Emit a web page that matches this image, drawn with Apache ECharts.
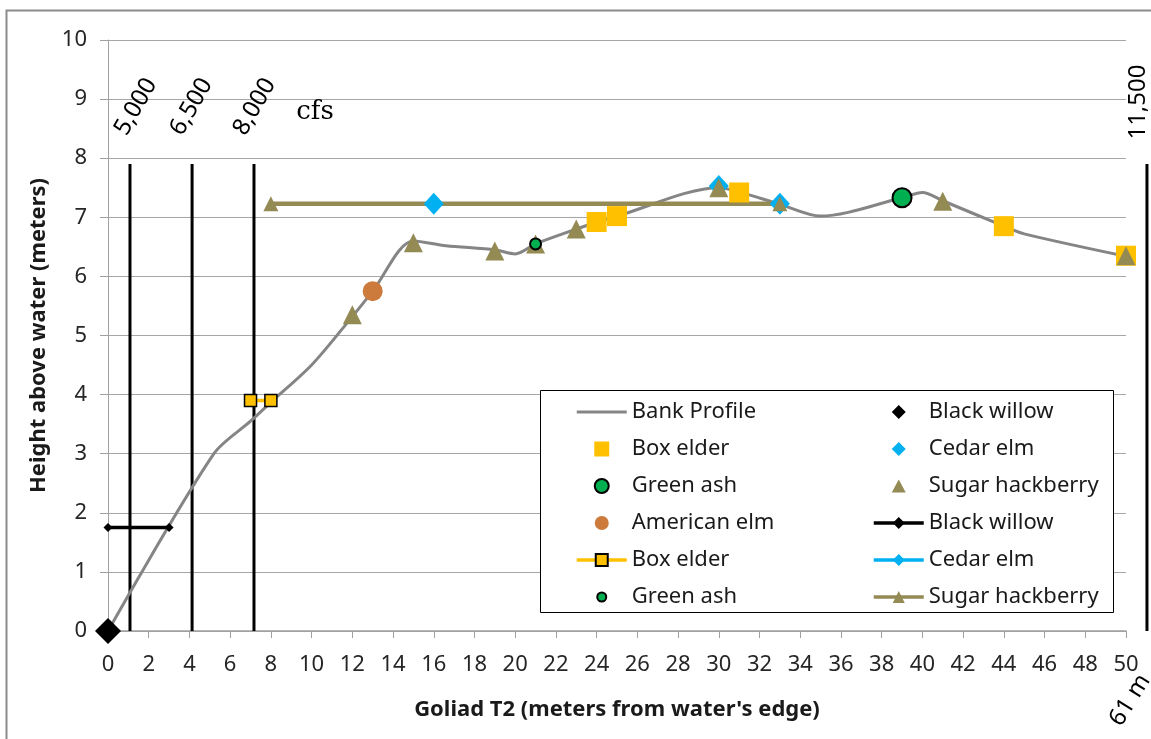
<!DOCTYPE html>
<html><head><meta charset="utf-8">
<script src="https://cdn.jsdelivr.net/npm/echarts@6/dist/echarts.min.js"></script>
<style>html,body{margin:0;padding:0;background:#fff}#c{width:1151px;height:739px}</style>
</head><body><div id="c"></div>
<script>
// ---------------- data ----------------
const bankX = [0, 5.2, 7, 8, 10, 12, 13, 15, 16.6, 19, 20, 21, 23, 24, 25, 30, 31, 33, 35, 39, 40, 41, 44, 45, 50];
const bankY = [0, 3.0, 3.55, 3.87, 4.5, 5.32, 5.75, 6.6, 6.52, 6.45, 6.38, 6.55, 6.8, 6.92, 7.02, 7.5, 7.43, 7.22, 7.02, 7.33, 7.42, 7.28, 6.85, 6.72, 6.34];

const blackWillowX = [0],  blackWillowY = [0];
const boxElderX = [24, 25, 31, 44, 50], boxElderY = [6.92, 7.02, 7.42, 6.85, 6.35];
const cedarElmX = [30], cedarElmY = [7.53];
const greenAshX = [39], greenAshY = [7.33];
const sugarX = [12, 15, 19, 21, 23, 30, 41, 50];
const sugarY = [5.35, 6.57, 6.43, 6.55, 6.8, 7.5, 7.27, 6.35];
const amElmX = [13], amElmY = [5.75];

const bwLineX = [0, 3],   bwLineY = [1.75, 1.75];
const beLineX = [7, 8],   beLineY = [3.9, 3.9];
const ceLineX = [16, 33], ceLineY = [7.23, 7.23];
const gaSmallX = [21],    gaSmallY = [6.55];
const shLineX = [8, 33],  shLineY = [7.23, 7.23];

const flowCfs = ['5,000', '6,500', '8,000', '11,500'];
const flowX = [1.08, 4.13, 7.17, 51.03];
const flowTop = 7.9;

const annText = ['5,000', '6,500', '8,000', 'cfs', '11,500', '61 m'];
const annX = [1.37, 4.1, 7.2, 10.17, 50.59, 50.2];
const annY = [8.87, 8.87, 8.87, 8.78, 8.95, -1.17];
const annRot = [60, 60, 60, 0, 90, 58];

const xTickMin = 0, xTickMax = 50, xTickStep = 2;
const yTickMin = 0, yTickMax = 10, yTickStep = 1;

// ---------------- chart ----------------
const pairs = (xs, ys) => xs.map((x, i) => [x, ys[i]]);
const OLIVE = '#948A54', GOLD = '#FFC000', CYAN = '#00B0F0', GREEN = '#00B050', ORANGE = '#CD7B3C', GRAY = '#858585';
const FONT = 'Noto Sans';

const chart = echarts.init(document.getElementById('c'));

const flowSeries = {
  type: 'custom', name: 'flows', silent: true, clip: false, z: 2,
  data: flowX.map(x => [x, flowTop]),
  renderItem: (params, api) => {
    const x = api.value(0), top = api.value(1);
    const p0 = api.coord([x, 0]), p1 = api.coord([x, top]);
    return { type: 'line', shape: { x1: p0[0], y1: p0[1], x2: p1[0], y2: p1[1] },
             style: { stroke: '#000', lineWidth: 3 } };
  }
};

const annSeries = {
  type: 'custom', name: 'annotations', silent: true, clip: false, z: 5,
  data: annText.map((t, i) => [annX[i], annY[i], annRot[i], i]),
  renderItem: (params, api) => {
    const p = api.coord([api.value(0), api.value(1)]);
    const t = annText[api.value(3)];
    const serif = t === 'cfs';
    return { type: 'text', x: p[0], y: p[1], rotation: api.value(2) * Math.PI / 180,
      style: { text: t, fontFamily: serif ? 'DejaVu Serif' : FONT, fontSize: serif ? 26 : 24,
               fill: '#000', align: 'center', verticalAlign: 'middle' } };
  }
};

// legend icons: 50x15 frame (invisible move-to corners) so shapes keep their aspect
const FRAME = 'path://M0,0M50,15';
const ICONS = {
  'Bank Profile': FRAME + 'M0,6L50,6L50,9L0,9Z',
  'Box elder': FRAME + 'M17.5,0L32.5,0L32.5,15L17.5,15Z',
  'Green ash': FRAME + 'M18,7.5A7,7 0 1 1 32,7.5A7,7 0 1 1 18,7.5Z',
  'American elm': FRAME + 'M18,7.5A7,7 0 1 1 32,7.5A7,7 0 1 1 18,7.5Z',
  'Green ash (small)': FRAME + 'M20.5,7.5A4.5,4.5 0 1 1 29.5,7.5A4.5,4.5 0 1 1 20.5,7.5Z',
  'Black willow': FRAME + 'M25,0.5L32,7.5L25,14.5L18,7.5Z',
  'Cedar elm': FRAME + 'M25,0.5L32,7.5L25,14.5L18,7.5Z',
  'Sugar hackberry': FRAME + 'M25,1L32,14L18,14Z'
};
const leftNames = ['Bank Profile', 'Box elder', 'Green ash', 'American elm', 'Box elder (line)', 'Green ash (small)'];
const rightNames = ['Black willow', 'Cedar elm', 'Sugar hackberry', 'Black willow (line)', 'Cedar elm (line)', 'Sugar hackberry (line)'];
const legendItem = n => ICONS[n] ? { name: n, icon: ICONS[n] } : { name: n };
const legendCommon = {
  orient: 'vertical', itemGap: 15, itemWidth: 50, itemHeight: 15, padding: 0,
  selectedMode: false, z: 6,
  lineStyle: { width: 3.5 },
  formatter: n => n.replace(/ \((line|small)\)$/, ''),
  textStyle: { fontFamily: FONT, fontSize: 22, color: '#1a1a1a', lineHeight: 20 }
};

chart.setOption({
  animation: false,
  backgroundColor: '#fff',
  textStyle: { fontFamily: FONT },
  grid: { left: 108, right: 25, top: 40, bottom: 108 },
  xAxis: {
    type: 'value', min: xTickMin, max: xTickMax, interval: xTickStep,
    name: "Goliad T2 (meters from water's edge)", nameLocation: 'middle', nameGap: 68,
    nameTextStyle: { fontFamily: FONT, fontSize: 22, fontWeight: 'bold', color: '#1a1a1a', verticalAlign: 'top' },
    axisLine: { show: true, lineStyle: { color: '#a0a0a0', width: 1.5 } },
    axisTick: { show: true, length: 7, lineStyle: { color: '#a0a0a0' } },
    axisLabel: { fontFamily: FONT, fontSize: 22, color: '#262626', margin: 23 },
    splitLine: { show: false }
  },
  yAxis: {
    type: 'value', min: yTickMin, max: yTickMax, interval: yTickStep,
    name: 'Height above water (meters)', nameLocation: 'middle', nameGap: 58, nameRotate: 90,
    nameTextStyle: { fontFamily: FONT, fontSize: 22, fontWeight: 'bold', color: '#1a1a1a' },
    axisLine: { show: true, lineStyle: { color: '#a0a0a0', width: 1 } },
    axisTick: { show: true, length: 8, lineStyle: { color: '#a0a0a0' } },
    axisLabel: { fontFamily: FONT, fontSize: 22, color: '#262626', margin: 21 },
    splitLine: { show: true, lineStyle: { color: '#a6a6a6', width: 1 } }
  },
  legend: [
    Object.assign({}, legendCommon, { left: 575, top: 401, data: leftNames.map(legendItem) }),
    Object.assign({}, legendCommon, { left: 872, top: 401, data: rightNames.map(legendItem) })
  ],
  graphic: [
    { type: 'rect', left: 540, top: 390, z: 5, silent: true,
      shape: { width: 573, height: 222 }, style: { fill: '#fff', stroke: '#000', lineWidth: 1 } },
    { type: 'rect', left: 4, top: 8, z: 0, silent: true,
      shape: { width: 1300, height: 900 }, style: { fill: 'none', stroke: '#8c8c8c', lineWidth: 2 } }
  ],
  series: [
    flowSeries,
    { type: 'line', name: 'Bank Profile', data: pairs(bankX, bankY), smooth: 0.3, symbol: 'none',
      lineStyle: { color: GRAY, width: 3 }, itemStyle: { color: GRAY }, z: 3 },
    { type: 'scatter', name: 'Black willow', data: pairs(blackWillowX, blackWillowY), symbol: 'diamond', symbolSize: 26,
      itemStyle: { color: '#000', opacity: 1 }, clip: false, z: 3 },
    { type: 'scatter', name: 'Box elder', data: pairs(boxElderX, boxElderY), symbol: 'rect', symbolSize: 20,
      itemStyle: { color: GOLD, opacity: 1 }, z: 3 },
    { type: 'scatter', name: 'Cedar elm', data: pairs(cedarElmX, cedarElmY), symbol: 'diamond', symbolSize: [20, 22],
      itemStyle: { color: CYAN, opacity: 1 }, z: 3 },
    { type: 'scatter', name: 'Green ash', data: pairs(greenAshX, greenAshY), symbol: 'circle', symbolSize: 19,
      itemStyle: { color: GREEN, borderColor: '#000', borderWidth: 2, opacity: 1 }, z: 3 },
    { type: 'scatter', name: 'Sugar hackberry', data: pairs(sugarX, sugarY), symbol: 'triangle', symbolSize: 19,
      itemStyle: { color: OLIVE, opacity: 1 }, clip: false, z: 3 },
    { type: 'scatter', name: 'American elm', data: pairs(amElmX, amElmY), symbol: 'circle', symbolSize: 20,
      itemStyle: { color: ORANGE, opacity: 1 }, z: 3 },
    { type: 'line', name: 'Black willow (line)', data: pairs(bwLineX, bwLineY), symbol: 'diamond', symbolSize: 9,
      lineStyle: { color: '#000', width: 3.5 }, itemStyle: { color: '#000' }, clip: false, z: 3 },
    { type: 'line', name: 'Box elder (line)', data: pairs(beLineX, beLineY), symbol: 'rect', symbolSize: 12,
      lineStyle: { color: GOLD, width: 3.5 }, itemStyle: { color: GOLD, borderColor: '#000', borderWidth: 1.5 }, z: 3 },
    { type: 'line', name: 'Cedar elm (line)', data: pairs(ceLineX, ceLineY), symbol: 'diamond', symbolSize: [20, 22],
      lineStyle: { color: CYAN, width: 3.5 }, itemStyle: { color: CYAN }, z: 3 },
    { type: 'scatter', name: 'Green ash (small)', data: pairs(gaSmallX, gaSmallY), symbol: 'circle', symbolSize: 11,
      itemStyle: { color: GREEN, borderColor: '#000', borderWidth: 2, opacity: 1 }, z: 3 },
    { type: 'line', name: 'Sugar hackberry (line)', data: pairs(shLineX, shLineY), symbol: 'triangle', symbolSize: 15,
      lineStyle: { color: OLIVE, width: 4.5 }, itemStyle: { color: OLIVE }, z: 3 },
    annSeries
  ]
});
</script>
</body></html>
